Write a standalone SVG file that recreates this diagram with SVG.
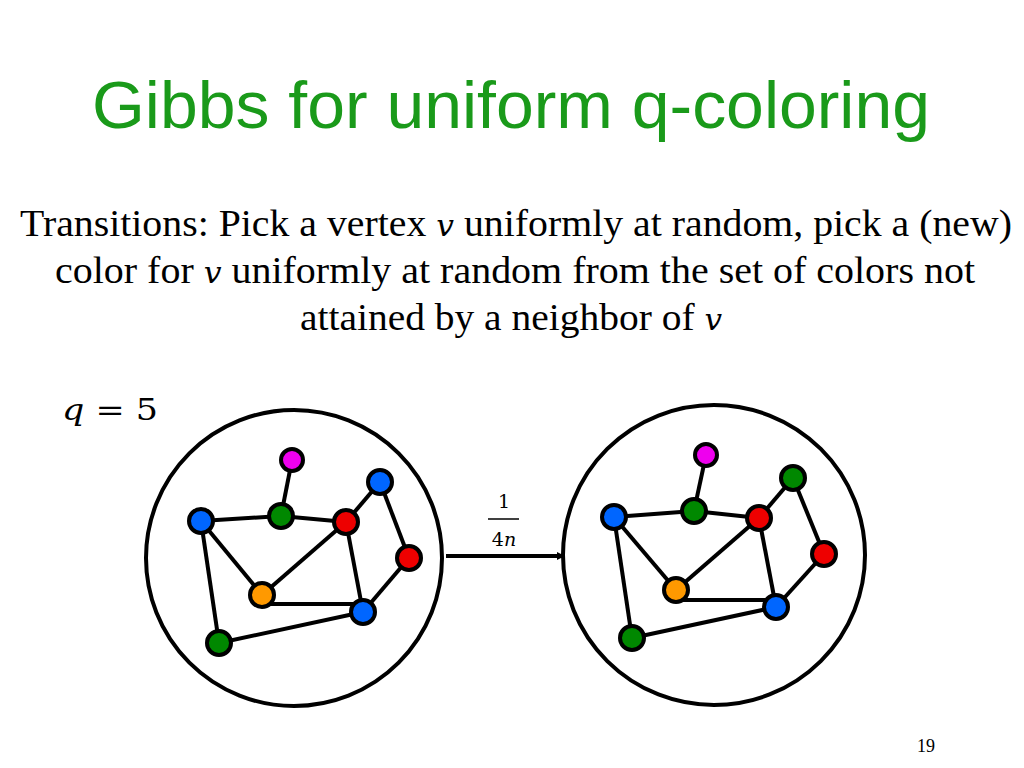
<svg xmlns="http://www.w3.org/2000/svg" width="1024" height="768" viewBox="0 0 1024 768">
<style>
.t{font-family:"Liberation Serif",serif;font-size:38px;fill:#000}
.m{font-family:"DejaVu Serif",serif;font-style:italic;font-size:30px}
.e line{stroke:#000;stroke-width:4}
.n{stroke:#000;stroke-width:4}
.c{fill:none;stroke:#000;stroke-width:4}
</style>
<defs><marker id="a" markerWidth="8" markerHeight="8" refX="7" refY="4" orient="auto" markerUnits="userSpaceOnUse"><path d="M0,0L8,4L0,8z"/></marker></defs>
<rect width="1024" height="768" fill="#fff"/>
<text x="511" y="128" text-anchor="middle" font-family="Liberation Sans,sans-serif" font-size="67" fill="#1a9a1a" textLength="838" lengthAdjust="spacingAndGlyphs">Gibbs for uniform q-coloring</text>
<text class="t" x="20" y="236" textLength="992" lengthAdjust="spacingAndGlyphs">Transitions: Pick a vertex <tspan class="m">v</tspan> uniformly at random, pick a (new)</text>
<text class="t" x="55" y="283" textLength="920" lengthAdjust="spacingAndGlyphs">color for <tspan class="m">v</tspan> uniformly at random from the set of colors not</text>
<text class="t" x="300" y="330" textLength="422" lengthAdjust="spacingAndGlyphs">attained by a neighbor of <tspan class="m">v</tspan></text>
<text x="62" y="420" font-family="DejaVu Serif,serif" font-size="30" textLength="96" lengthAdjust="spacingAndGlyphs"><tspan font-style="italic">q</tspan> = 5</text>
<text x="926" y="752" text-anchor="middle" font-family="Liberation Serif,serif" font-size="18">19</text>
<g id="circles"><ellipse class="c" cx="294" cy="558" rx="148" ry="148"/><ellipse class="c" cx="714" cy="555" rx="151" ry="150"/></g>
<g id="connectors" class="e">
<line x1="292" y1="460" x2="281" y2="516"/><line x1="201" y1="521" x2="281" y2="516"/><line x1="281" y1="516" x2="346" y2="522"/><line x1="346" y1="522" x2="380" y2="482"/><line x1="380" y1="482" x2="409" y2="558"/><line x1="409" y1="558" x2="363" y2="612"/><line x1="346" y1="522" x2="363" y2="612"/><line x1="346" y1="522" x2="262" y2="595"/><line x1="201" y1="521" x2="262" y2="595"/><line x1="262" y1="604" x2="363" y2="604"/><line x1="201" y1="521" x2="219" y2="643"/><line x1="219" y1="643" x2="363" y2="612"/>
<line x1="706" y1="455" x2="694" y2="511"/><line x1="614" y1="517" x2="694" y2="511"/><line x1="694" y1="511" x2="759" y2="518"/><line x1="759" y1="518" x2="793" y2="478"/><line x1="793" y1="478" x2="824" y2="554"/><line x1="824" y1="554" x2="776" y2="607"/><line x1="759" y1="518" x2="776" y2="607"/><line x1="759" y1="518" x2="676" y2="590"/><line x1="614" y1="517" x2="676" y2="590"/><line x1="676" y1="600" x2="776" y2="600"/><line x1="614" y1="517" x2="632" y2="638"/><line x1="632" y1="638" x2="776" y2="607"/>
<line x1="446" y1="556" x2="564" y2="556" stroke-width="3" marker-end="url(#a)"/>
</g>
<text x="504" y="508" text-anchor="middle" font-family="DejaVu Serif,serif" font-size="19">1</text>
<line x1="488" y1="519" x2="519" y2="519" stroke="#000" stroke-width="1.5"/>
<text x="504" y="546" text-anchor="middle" font-family="DejaVu Serif,serif" font-size="19">4<tspan font-style="italic">n</tspan></text>
<g id="left">
<circle class="n" cx="292" cy="460" r="11" fill="#ee00ee"/><circle class="n" cx="380" cy="482" r="12" fill="#0066ff"/><circle class="n" cx="201" cy="521" r="12" fill="#0066ff"/><circle class="n" cx="281" cy="516" r="12" fill="#008800"/><circle class="n" cx="346" cy="522" r="12" fill="#ee0000"/><circle class="n" cx="409" cy="558" r="12" fill="#ee0000"/><circle class="n" cx="262" cy="595" r="12" fill="#ff9900"/><circle class="n" cx="363" cy="612" r="12" fill="#0066ff"/><circle class="n" cx="219" cy="643" r="12" fill="#008800"/>
</g>
<g id="right">
<circle class="n" cx="706" cy="455" r="11" fill="#ee00ee"/><circle class="n" cx="793" cy="478" r="12" fill="#008800"/><circle class="n" cx="614" cy="517" r="12" fill="#0066ff"/><circle class="n" cx="694" cy="511" r="12" fill="#008800"/><circle class="n" cx="759" cy="518" r="12" fill="#ee0000"/><circle class="n" cx="824" cy="554" r="12" fill="#ee0000"/><circle class="n" cx="676" cy="590" r="12" fill="#ff9900"/><circle class="n" cx="776" cy="607" r="12" fill="#0066ff"/><circle class="n" cx="632" cy="638" r="12" fill="#008800"/>
</g>
</svg>
